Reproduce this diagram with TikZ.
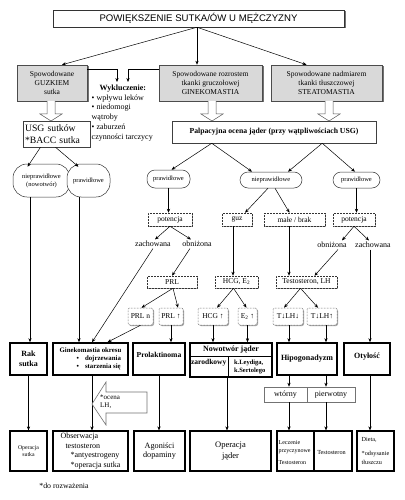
\documentclass[tikz,border=0pt]{standalone}
\usepackage{fontspec}
\setmainfont{Liberation Serif}
\newfontfamily\titlefont{Liberation Sans}
\usetikzlibrary{arrows.meta,shadows,calc}
\newcommand\myfs[2]{\fontsize{#1}{#2}\selectfont}
\newcommand\hollowarrow[3]{%
  \draw[hollow] (#1-4,#2) -- (#1-4,#3-7) -- (#1-11,#3-7) -- (#1,#3) -- (#1+11,#3-7) -- (#1+4,#3-7) -- (#1+4,#2);}
\begin{document}
\begin{tikzpicture}[x=1pt,y=-1pt,
  arr/.style={-{Stealth[length=4pt,width=3.2pt]}, line width=0.5pt},
  shd/.style={drop shadow={shadow xshift=1.5pt,shadow yshift=-1.5pt,opacity=1,fill=black!55}},
  lshd/.style={drop shadow={shadow xshift=1pt,shadow yshift=-1pt,opacity=1,fill=black!35}},
  titlebox/.style={draw=black!80, line width=0.5pt, fill=white, shd, inner sep=0pt, font=\titlefont\myfs{9.6}{11}},
  greybox/.style={draw=black!70, line width=0.5pt, fill=black!15, shd, inner sep=0pt, align=center, font=\myfs{7.5}{9.3}},
  plainbox/.style={draw=black!75, line width=0.5pt, fill=white, inner sep=0pt},
  stad/.style={draw=black!80, line width=0.5pt, fill=white, inner sep=0pt, align=center, font=\myfs{6.5}{8}},
  dbox/.style={draw=black!80, densely dotted, line width=0.5pt, fill=white, lshd, inner sep=0pt, font=\myfs{7.5}{8}},
  rbox/.style={dbox, rounded corners=2pt},
  lbl/.style={inner sep=1.5pt, font=\myfs{8}{9}},
  thickbox/.style={draw=black, line width=1.6pt, fill=white, lshd, inner sep=0pt, align=center, font=\bfseries\myfs{8}{10}},
  endbox/.style={draw=black, line width=1.2pt, fill=white, inner sep=0pt, align=center, font=\myfs{8}{9.5}},
  hollow/.style={draw=black!65, line width=0.5pt, fill=white},
]
\fill[white] (0,0) rectangle (404,500);
\useasboundingbox (0,0) rectangle (404,500);

% ---------- top ----------
\node[titlebox, minimum width=291, minimum height=17] (title) at (198.5,18.5) {POWIĘKSZENIE SUTKA/ÓW U MĘŻCZYZNY};
\node[greybox, minimum width=70, minimum height=36] (guzek) at (52,83) {Spowodowane\\GUZKIEM\\sutka};
\node[greybox, minimum width=103, minimum height=36] (gineko) at (210.5,83) {Spowodowane rozrostem\\tkanki gruczołowej\\GINEKOMASTIA};
\node[greybox, minimum width=111, minimum height=36] (steato) at (326.5,83) {Spowodowane nadmiarem\\tkanki tłuszczowej\\STEATOMASTIA};

\coordinate (t0) at ($(title.south)+(-1.5,0)$);
\draw[arr] (t0) -- ($(guzek.north)+(10,0)$);
\draw[arr] (t0) -- (t0 |- gineko.north);
\draw[arr] (t0) -- ($(steato.north)+(-20,0)$);

\node[anchor=north west, inner sep=0pt, align=left, font=\myfs{8}{9.8}] (wyk) at (91.5,84.5) {\hspace*{8pt}\textbf{Wykluczenie:}\\• wpływu leków\\• niedomogi\\wątroby\\• zaburzeń\\czynności tarczycy};
\coordinate (w1) at (117,82);
\coordinate (w2) at (128,82);
\draw[arr] ($(guzek.north east)+(0,5)$) -| (w1);
\draw[arr] ($(gineko.north west)+(0,5)$) -| (w2);

\node[plainbox, minimum width=67, minimum height=26, align=left, text width=63, font=\myfs{9.7}{12}] (usg) at (56.5,134) {USG sutków\\{}*BACC sutka};
\node[plainbox, lshd, minimum width=204, minimum height=22, font=\bfseries\myfs{7.7}{9}] (palp) at (274,132) {Palpacyjna ocena jąder (przy wątpliwościach USG)};

\hollowarrow{51}{101}{121}
\hollowarrow{212}{101}{121}
\hollowarrow{329}{101}{121}

% ---------- second level ----------
\node[stad, rounded corners=14pt, minimum width=57, minimum height=33] (niep1) at (41.5,180.5) {nieprawidłowe\\(nowotwór)};
\node[stad, rounded corners=14pt, minimum width=43, minimum height=33] (praw1) at (88.5,180.5) {prawidłowe};
\node[stad, rounded corners=8pt, minimum width=43, minimum height=18] (prawL) at (168.5,179) {prawidłowe};
\node[stad, rounded corners=8pt, minimum width=62, minimum height=16] (niepR) at (271,180) {nieprawidłowe};
\node[stad, rounded corners=8pt, minimum width=47, minimum height=16] (prawR) at (356.5,180) {prawidłowe};

\draw[arr] ($(usg.south)+(-16,0)$) -- ($(niep1.north)+(-14,3)$);
\draw[arr] ($(usg.south)+(-1,0)$) -- ($(praw1.north)+(-10,3)$);
\coordinate (p1) at ($(palp.south west)+(40,0)$);
\coordinate (p2) at ($(palp.south east)+(-54,0)$);
\draw[arr] (p1) -- ($(prawL.north)+(3,0)$);
\draw[arr] (p1) -- ($(niepR.north)+(-19,0)$);
\draw[arr] (p2) -- ($(niepR.north)+(17,0)$);
\draw[arr] (p2) -- ($(prawR.north)+(-1.5,0)$);

\node[dbox, minimum width=44, minimum height=13] (potL) at (170,219.5) {potencja};
\node[dbox, minimum width=30, minimum height=13] (guz) at (237,219.5) {guz};
\node[dbox, minimum width=61, minimum height=13] (male) at (294.5,219.5) {małe / brak};
\node[dbox, minimum width=42, minimum height=13] (potR) at (354,219.5) {potencja};

\draw[arr] (prawL.south) -- (prawL.south |- potL.north);
\draw[arr] ($(niepR.south)+(-3,0)$) -- ($(guz.north)+(8,0)$);
\draw[arr] ($(niepR.south)+(4,0)$) -- ($(male.north)+(-5,0)$);
\draw[arr] (prawR.south) -- (prawR.south |- potR.north);

\node[lbl] (zachL) at (153,244) {zachowana};
\node[lbl] (obnL) at (197,244) {obniżona};
\node[lbl] (obnR) at (332,245) {obniżona};
\node[lbl] (zachR) at (373,245) {zachowana};

\draw[arr] (potL.south) -- ($(zachL.north)+(2,0)$);
\draw[arr] (potL.south) -- ($(obnL.north)+(-6,0)$);
\draw[arr] (potR.south) -- ($(obnR.north)+(10,0)$);
\draw[arr] (potR.south) -- ($(zachR.north)+(-4,0)$);

\node[dbox, minimum width=50, minimum height=12] (PRL) at (172,282) {PRL};
\node[dbox, minimum width=43, minimum height=12] (HCGE) at (236.5,282) {HCG, E\textsubscript{2}};
\node[dbox, minimum width=61, minimum height=12] (TLH) at (306.5,282) {Testosteron, LH};

\coordinate (kg) at (233,0);
\coordinate (km) at (289,0);
\coordinate (kz) at (370,0);
\draw[arr] (guz.south -| kg) -- (HCGE.north -| kg);
\draw[arr] (male.south -| km) -- (TLH.north -| km);
\draw[arr] ($(obnL.south)+(-7,0)$) -- (PRL.north);
\draw[arr] ($(obnR.south)+(6,0)$) -- ($(TLH.north)+(8,0)$);

\node[rbox, minimum width=25, minimum height=17] (PRLn) at (140.5,316.5) {PRL n};
\node[rbox, minimum width=24, minimum height=17] (PRLup) at (171,316.5) {PRL ↑};
\node[rbox, minimum width=30, minimum height=17] (HCGup) at (213,316.5) {HCG ↑};
\node[rbox, minimum width=19, minimum height=17] (E2up) at (247.5,316.5) {E\textsubscript{2} ↑};
\node[rbox, minimum width=30, minimum height=17] (TLHdd) at (288,316.5) {T↓LH↓};
\node[rbox, minimum width=30, minimum height=17] (TLHdu) at (322,316.5) {T↓LH↑};

\draw[arr] ($(PRL.south)+(1,0)$) -- ($(PRLn.north)+(1,0)$);
\draw[arr] ($(PRL.south)+(1,0)$) -- ($(PRLup.north)+(7,0)$);
\draw[arr] ($(HCGE.south)+(-3,0)$) -- ($(HCGup.north)+(4,0)$);
\draw[arr] ($(HCGE.south)+(-3,0)$) -- ($(E2up.north)+(-1,0)$);
\draw[arr] ($(TLH.south)+(-6,0)$) -- ($(TLHdd.north)+(-4,0)$);
\draw[arr] ($(TLH.south)+(-6,0)$) -- ($(TLHdu.north)+(-4,0)$);

% ---------- diagnoses ----------
\node[thickbox, minimum width=37, minimum height=32] (rak) at (28.5,359) {Rak\\sutka};
\node[thickbox, minimum width=75, minimum height=32, font=\bfseries\myfs{6.8}{7.6}] (gin) at (90.5,359) {\begin{tabular}{@{}l@{}}Ginekomastia okresu\\\hspace{17pt}•\hspace{6pt}dojrzewania\\\hspace{17pt}•\hspace{6pt}starzenia się\end{tabular}};
\node[thickbox, minimum width=52, minimum height=32] (prol) at (159,359) {};
\node[inner sep=0pt, font=\bfseries\myfs{7.6}{9}] (prolt) at ($(prol.center)+(0,-4)$) {Prolaktinoma};
\node[thickbox, minimum width=82, minimum height=34] (now) at (231,360) {};
\node[thickbox, minimum width=60, minimum height=32] (hipo) at (307,359) {Hipogonadyzm};
\node[thickbox, minimum width=46, minimum height=32] (oty) at (367,359) {};
\node[inner sep=0pt, font=\bfseries\myfs{8}{9}] (otyt) at ($(oty.center)+(0,-2)$) {Otyłość};

\draw[line width=0.7pt] ($(now.north west)+(0,14)$) -- ($(now.north east)+(0,14)$);
\draw[line width=0.7pt] ($(now.north west)+(39,14)$) -- ($(now.south west)+(39,0)$);
\node[inner sep=0pt, font=\bfseries\myfs{8}{9}] (nowt) at ($(now.north)+(0,7.5)$) {Nowotwór jąder};
\node[inner sep=0pt, font=\bfseries\myfs{7.5}{9}] (nowz) at ($(now.north west)+(19.5,21)$) {zarodkowy};
\node[inner sep=0pt, align=left, font=\bfseries\myfs{6.5}{8}] (nowl) at ($(now.north west)+(60.5,25)$) {k.Leydiga,\\k.Sertolego};

\coordinate (k30) at (30,0);
\coordinate (k79) at (79,0);
\coordinate (kc1) at (289,0);
\coordinate (kc2) at (326,0);
\draw[arr] (niep1.south -| k30) -- (rak.north -| k30);
\draw[arr] (praw1.south -| k79) -- (gin.north -| k79);
\draw[arr] (zachL.south) -- ($(gin.north)+(1.5,0)$);
\draw[arr] (PRLn.south) -- ($(gin.north)+(17,0)$);
\draw[arr] (PRLup.south) -- (PRLup.south |- prol.north);
\draw[arr] (HCGup.south) -- (HCGup.south |- now.north);
\draw[arr] (E2up.south) -- (E2up.south |- now.north);
\draw[arr] (TLHdd.south -| kc1) -- (hipo.north -| kc1);
\draw[arr] (TLHdu.south -| kc2) -- (hipo.north -| kc2);
\draw[arr] (zachR.south -| kz) -- (oty.north -| kz);

% ---------- hipogonadyzm type ----------
\node[draw=black!55, line width=0.5pt, fill=white, inner sep=0pt, minimum width=91, minimum height=15] (wp) at (309.5,394.5) {};
\draw[draw=black!55, line width=0.5pt] (307,387) -- (307,402);
\node[inner sep=0pt, font=\myfs{8}{9}] (wt) at (285.5,394.5) {wtórny};
\node[inner sep=0pt, font=\myfs{8}{9}] (pw) at (331,394.5) {pierwotny};
\draw[arr] (hipo.south -| kc1) -- (wp.north -| kc1);
\draw[arr] (hipo.south -| kc2) -- (wp.north -| kc2);

% ---------- treatments ----------
\node[endbox, minimum width=37, minimum height=40, font=\myfs{5.8}{7.5}] (opS) at (28.5,451) {Operacja\\sutka};
\node[endbox, minimum width=75, minimum height=40, align=left] (obs) at (90.5,451) {Obserwacja\\\hspace*{5pt}testosteron\\\hspace*{10pt}*antyestrogeny\\\hspace*{10pt}*operacja sutka};
\node[endbox, minimum width=51, minimum height=40, font=\myfs{8.2}{9.5}] (ago) at (159.5,451) {Agoniści\\dopaminy};
\node[endbox, minimum width=81, minimum height=40, font=\myfs{8.5}{10.5}] (opJ) at (230.5,451) {Operacja\\jąder};
\node[endbox, minimum width=75, minimum height=40] (lecz) at (314.5,451) {};
\draw[line width=1.2pt] (314,431) -- (314,471);
\node[anchor=west, inner sep=0pt, align=left, font=\myfs{6}{8}] (lecz1) at ($(lecz.west)+(2,2)$) {Leczenie\\przyczynowe\\[4pt]Testosteron};
\node[inner sep=0pt, font=\myfs{6.2}{8}] (lecz2) at ($(lecz.center)+(17,1)$) {Testosteron};
\node[endbox, minimum width=37, minimum height=40, align=left, font=\myfs{6.2}{9.5}] (diet) at (375.5,451) {Dieta,\\[4pt]{}*odsysanie\\tłuszczu};

\coordinate (kgin) at (92,0);
\coordinate (kn) at (227,0);
\draw[arr] (rak.south) -- (rak.south |- opS.north);
\draw[arr] (gin.south -| kgin) -- (obs.north -| kgin);
\draw[arr] (prol.south) -- (prol.south |- ago.north);
\draw[arr] (now.south -| kn) -- (opJ.north -| kn);
\draw[arr] (wp.south -| kc1) -- (lecz.north -| kc1);
\draw[arr] (wp.south -| kc2) -- (lecz.north -| kc2);
\draw[arr] (oty.south -| kz) -- (diet.north -| kz);

% ---------- callout ----------
\draw[draw=black!55, line width=0.6pt, fill=white] (92,404) -- (106,382) -- (106,392) -- (147,392) -- (147,413) -- (106,413) -- (106,425) -- cycle;
\node[anchor=north west, inner sep=0pt, align=left, font=\myfs{7}{8.5}] (ocena) at (100,394.5) {*ocena\\LH,};

\node[inner sep=0pt, font=\myfs{7.8}{9}] (note) at (64,486) {*do rozważenia};
\end{tikzpicture}
\end{document}
